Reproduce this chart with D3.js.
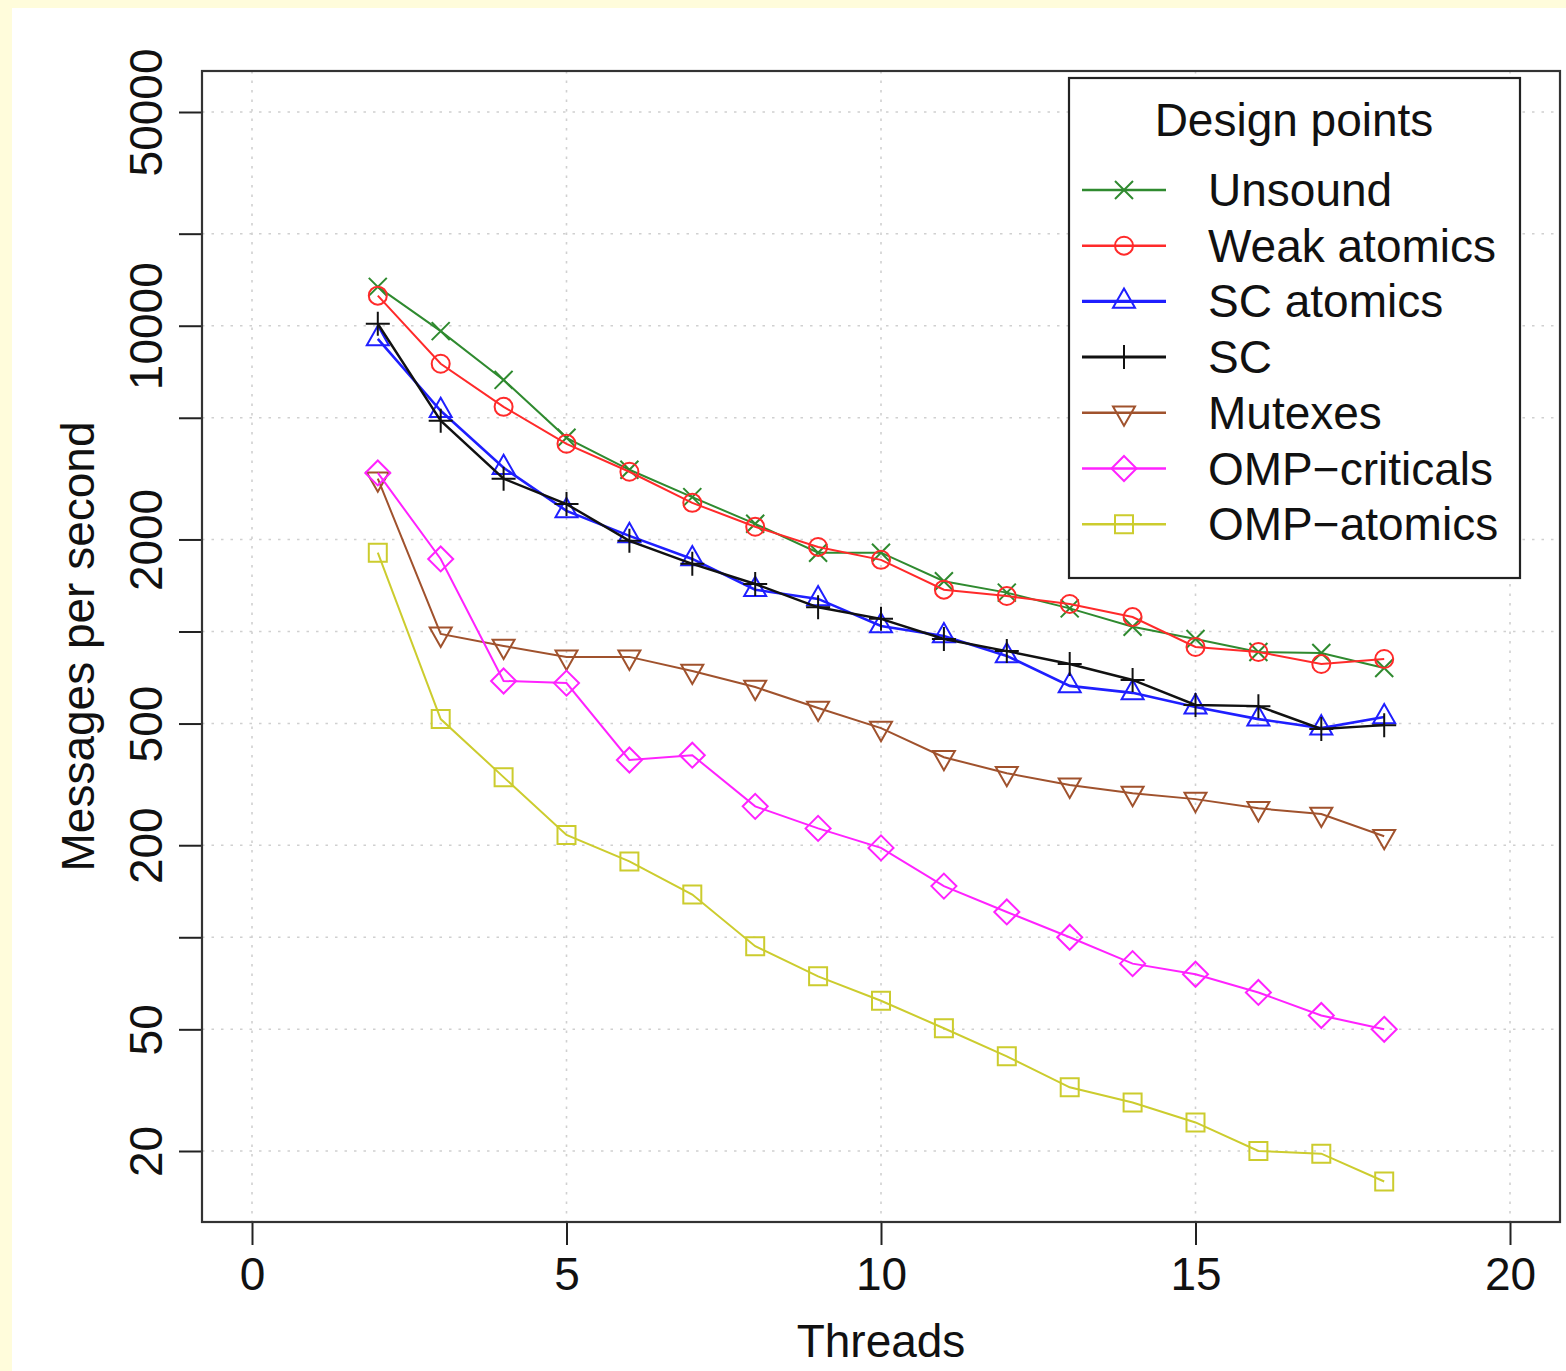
<!DOCTYPE html>
<html>
<head>
<meta charset="utf-8">
<script src="https://cdn.jsdelivr.net/npm/d3@7"></script>
<style>
  body { margin: 0; background: #fffcdb; }
  svg { display: block; }
  text { font-family: "Liberation Sans", Arial, sans-serif; fill: #111; }
</style>
</head>
<body>
<script>

// Data (messages per second, log axis)
var threads = [2, 3, 4, 5, 6, 7, 8, 9, 10, 11, 12, 13, 14, 15, 16, 17, 18];

var unsound     = [13400, 9600, 6650, 4300, 3380, 2750, 2250, 1810, 1810, 1460, 1340, 1190, 1036, 945, 857, 850, 760];
var weakAtomics = [12540, 7510, 5430, 4110, 3330, 2635, 2200, 1890, 1715, 1370, 1306, 1230, 1115, 890, 857, 783, 813];
var scAtomics   = [9060, 5270, 3430, 2480, 2055, 1727, 1370, 1278, 1043, 967, 832, 664, 630, 566, 517, 483, 525];
var sc          = [10150, 4890, 3160, 2610, 1980, 1665, 1430, 1200, 1100, 945, 863, 783, 694, 575, 570, 480, 494];
var mutexes     = [3160, 982, 897, 826, 826, 743, 658, 562, 483, 388, 344, 315, 296, 283, 264, 253, 214];
var ompCrit     = [3300, 1727, 689, 678, 380, 394, 268, 227, 196, 147, 121, 100, 82, 75.7, 66, 55.5, 50];
var ompAtomics  = [1810, 517, 334, 216, 177, 138, 93.5, 74.5, 62, 50.4, 40.8, 32.3, 28.8, 24.8, 20, 19.6, 15.9];

var seriesNames  = ["Unsound", "Weak atomics", "SC atomics", "SC", "Mutexes", "OMP\u2212criticals", "OMP\u2212atomics"];
var seriesValues = [unsound, weakAtomics, scAtomics, sc, mutexes, ompCrit, ompAtomics];

var xTicks = [0, 5, 10, 15, 20];
var yTicks = [20, 50, 100, 200, 500, 1000, 2000, 5000, 10000, 20000, 50000];
var yLabels = [20, 50, 200, 500, 2000, 10000, 50000];

// look of each series
var styles = [
    {color: "#2f8a2f", shape: "x",        width: 2},
    {color: "#ff2a2a", shape: "circle",   width: 2},
    {color: "#1f1fff", shape: "triangle", width: 2.6},
    {color: "#111111", shape: "plus",     width: 2.4},
    {color: "#a0522d", shape: "down",     width: 2},
    {color: "#ff22ff", shape: "diamond",  width: 2},
    {color: "#cccc2e", shape: "square",   width: 2}
];

var width = 1566;
var height = 1371;

var box = {left: 202, right: 1560, top: 71, bottom: 1222};

var x = d3.scaleLinear()
    .domain([0, 20])
    .range([252, 1510]);

var y = d3.scaleLog()
    .domain([20, 50000])
    .range([1151, 112]);

function markerPath(shape){
    var r = 9;
    switch (shape){
        case "x": return "M-9,-9L9,9M-9,9L9,-9";
        case "plus": return "M-12,0L12,0M0,-12L0,12";
        case "circle": return "M" + r + ",0A" + r + "," + r + " 0 1,1 " + (-r) + ",0A" + r + "," + r + " 0 1,1 " + r + ",0Z";
        case "triangle": return "M0,-13L11,6.3L-11,6.3Z";
        case "down": return "M0,13L11,-6.3L-11,-6.3Z";
        case "diamond": return "M0,-12.5L12.5,0L0,12.5L-12.5,0Z";
        case "square": return "M-9,-9L9,-9L9,9L-9,9Z";
    }
}

var svg = d3.select("body")
    .append("svg")
    .attr("width", width)
    .attr("height", height);

// white page with the yellow frame round it
svg.append("rect")
    .attr("x", 12)
    .attr("y", 8)
    .attr("width", width - 12)
    .attr("height", height - 8)
    .attr("fill", "white");

// grid
var grid = svg.append("g")
    .attr("stroke", "#d0d0d0")
    .attr("stroke-width", 1.6)
    .attr("stroke-dasharray", "2.5,7");

yTicks.forEach(v => {
    grid.append("line")
        .attr("x1", box.left).attr("x2", box.right)
        .attr("y1", y(v)).attr("y2", y(v));
});
xTicks.forEach(v => {
    grid.append("line")
        .attr("x1", x(v)).attr("x2", x(v))
        .attr("y1", box.top).attr("y2", box.bottom);
});

// series
var line = d3.line()
    .x((d, i) => x(threads[i]))
    .y(d => y(d));

seriesValues.forEach((vals, k) => {
    var st = styles[k];
    svg.append("path")
        .attr("d", line(vals))
        .attr("fill", "none")
        .attr("stroke", st.color)
        .attr("stroke-width", st.width);

    vals.forEach((v, i) => {
        svg.append("path")
            .attr("transform", `translate(${x(threads[i])},${y(v)})`)
            .attr("d", markerPath(st.shape))
            .attr("fill", "none")
            .attr("stroke", st.color)
            .attr("stroke-width", 2);
    });
});

// axes
var xAxis = svg.append("g")
    .attr("transform", `translate(0,${box.bottom})`)
    .call(d3.axisBottom(x).tickValues(xTicks).tickSize(23).tickSizeOuter(0));

xAxis.select(".domain").remove();
xAxis.selectAll(".tick line").attr("stroke", "#222").attr("stroke-width", 2);
xAxis.selectAll(".tick text")
    .attr("y", 68)
    .attr("dy", 0)
    .attr("font-size", 46)
    .attr("fill", "#111");

var yAxis = svg.append("g")
    .attr("transform", `translate(${box.left},0)`)
    .call(d3.axisLeft(y).tickValues(yTicks).tickSize(23)
        .tickFormat(d => yLabels.indexOf(d) >= 0 ? String(d) : ""));

yAxis.select(".domain").remove();
yAxis.selectAll(".tick line").attr("stroke", "#222").attr("stroke-width", 2);
yAxis.selectAll(".tick text")
    .attr("x", 0)
    .attr("dy", 0)
    .attr("text-anchor", "middle")
    .attr("transform", "translate(-40,0) rotate(-90)")
    .attr("font-size", 46)
    .attr("fill", "#111");

// plot box
svg.append("rect")
    .attr("x", box.left)
    .attr("y", box.top)
    .attr("width", box.right - box.left)
    .attr("height", box.bottom - box.top)
    .attr("fill", "none")
    .attr("stroke", "#333")
    .attr("stroke-width", 2.2);

// axis titles
svg.append("text")
    .attr("x", x(10))
    .attr("y", 1357)
    .attr("text-anchor", "middle")
    .attr("font-size", 46)
    .text("Threads");

svg.append("text")
    .attr("transform", `translate(94,${(box.top + box.bottom) / 2}) rotate(-90)`)
    .attr("text-anchor", "middle")
    .attr("font-size", 46)
    .text("Messages per second");

// legend
var legend = svg.append("g");

legend.append("rect")
    .attr("x", 1069)
    .attr("y", 78)
    .attr("width", 451)
    .attr("height", 500)
    .attr("fill", "white")
    .attr("stroke", "#222")
    .attr("stroke-width", 2.2);

legend.append("text")
    .attr("x", 1294)
    .attr("y", 136)
    .attr("text-anchor", "middle")
    .attr("font-size", 46)
    .text("Design points");

seriesNames.forEach((name, k) => {
    var st = styles[k];
    var ly = 190 + k * 55.7;
    legend.append("line")
        .attr("x1", 1082).attr("x2", 1166)
        .attr("y1", ly).attr("y2", ly)
        .attr("stroke", st.color)
        .attr("stroke-width", st.width + 0.6);
    legend.append("path")
        .attr("transform", `translate(1124,${ly})`)
        .attr("d", markerPath(st.shape))
        .attr("fill", "none")
        .attr("stroke", st.color)
        .attr("stroke-width", 2);
    legend.append("text")
        .attr("x", 1208)
        .attr("y", ly + 16)
        .attr("font-size", 46)
        .text(name);
});

</script>
</body>
</html>
